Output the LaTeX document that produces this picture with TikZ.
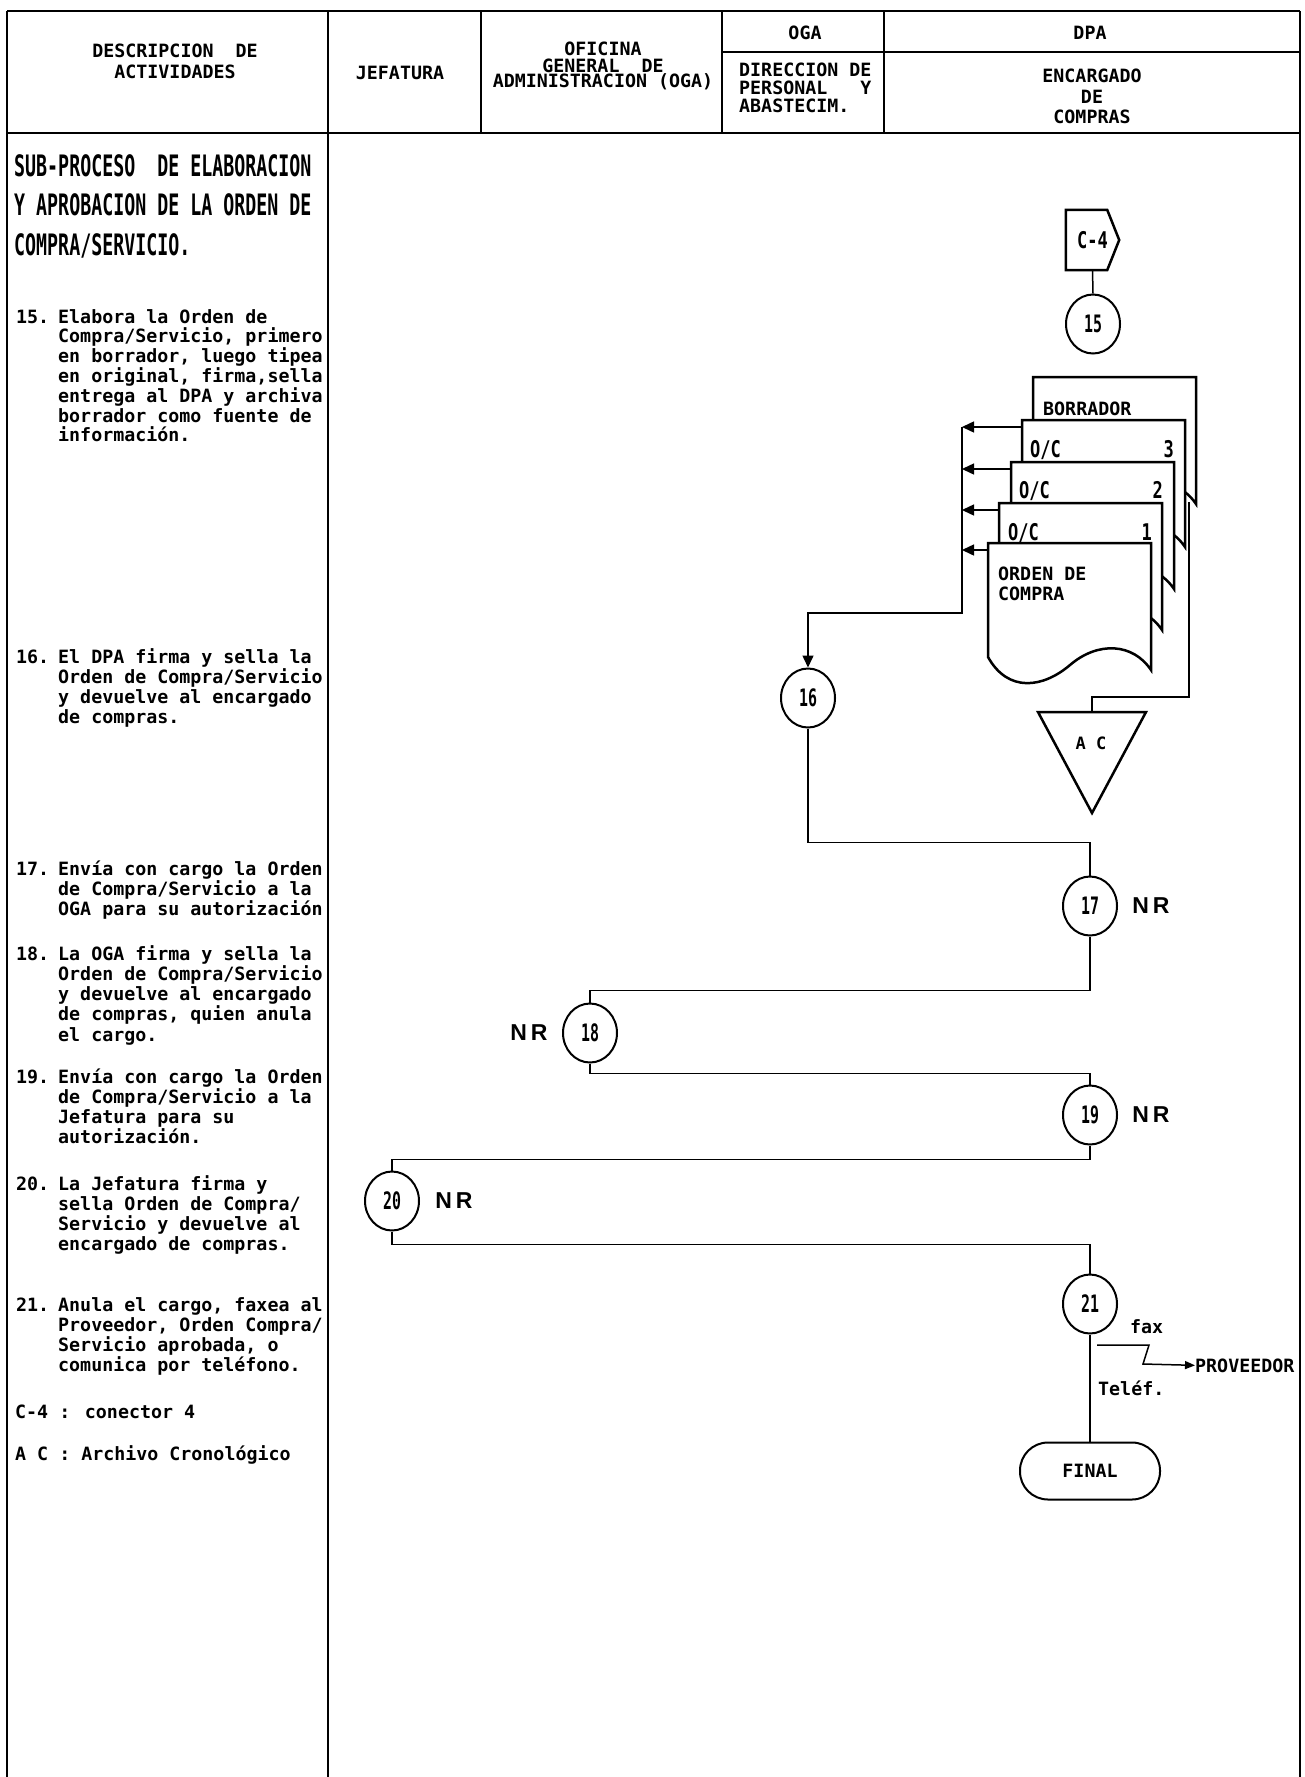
\documentclass[tikz,border=0pt]{standalone}
\usepackage{fontspec}
\usetikzlibrary{shapes.geometric,arrows.meta}
\newfontfamily\monof{DejaVu Sans Mono}
\newfontfamily\narrowf[FakeStretch=0.62]{DejaVu Sans Mono}
\newfontfamily\tallf[FakeStretch=0.74]{DejaVu Sans Mono}
\newfontfamily\nrf{Liberation Sans}
\newcommand\lin[1]{\hbox{#1}}
\newcommand\itemstack[2][20.3pt]{\vtop{\baselineskip=#1\lineskiplimit=-100pt\relax #2}}
\newcommand\docpath[2]{%
  \draw[shp] (#1,#2) -- ({#1+163},#2) -- ({#1+163},{#2+127})
    .. controls ({#1+145},{#2+100}) and ({#1+110},{#2+98}) .. ({#1+82},{#2+122})
    .. controls ({#1+55},{#2+145}) and ({#1+20},{#2+150}) .. (#1,{#2+114}) -- cycle;}
\tikzset{
  txt/.style={font=\monof\bfseries\fontsize{18.3}{20}\selectfont, inner sep=0pt, anchor=base west},
  ctxt/.style={txt, anchor=base},
  hsm/.style={ctxt, font=\monof\bfseries\fontsize{18.3}{18}\selectfont},
  ttl/.style={font=\narrowf\bfseries\fontsize{29.5}{37}\selectfont, inner sep=0pt, anchor=base west},
  talltxt/.style={font=\tallf\bfseries\fontsize{23}{23}\selectfont, inner sep=0pt, anchor=base west},
  circ/.style={ellipse, draw, line width=2pt, minimum width=54pt, minimum height=59pt, inner sep=0pt,
    font=\narrowf\bfseries\fontsize{24}{24}\selectfont},
  nr/.style={font=\nrf\bfseries\fontsize{23}{23}\selectfont, inner sep=0pt},
  conn/.style={line width=1.5pt},
  tip/.style={-{Triangle[length=12pt,width=11pt]}},
  shp/.style={line width=2.5pt, fill=white, line join=miter},
  frame/.style={line width=2.5pt},
  thinl/.style={line width=1.6pt},
}
\begin{document}
\begin{tikzpicture}[x=1pt,y=-1pt]
\useasboundingbox (0,0) rectangle (1305,1777);
% ---------- table frame ----------
\draw[frame] (7,11) -- (1300,11);
\draw[frame] (7,133) -- (1300,133);
\draw[thinl] (722,52) -- (1300,52);
\draw[line width=2pt] (7,11) -- (7,1777);
\draw[line width=2pt] (1300,11) -- (1300,1777);
\draw[line width=2pt] (328,11) -- (328,1777);
\draw[thinl] (481,11) -- (481,133);
\draw[thinl] (722,11) -- (722,133);
\draw[thinl] (884,11) -- (884,133);
% ---------- header texts ----------
\node[ctxt] (h1a) at (175,58) {DESCRIPCION\ \ DE};
\node[ctxt] (h1b) at (175,78) {ACTIVIDADES};
\node[ctxt] (h2) at (400,80) {JEFATURA};
\node[hsm] (h3a) at (603,56) {OFICINA};
\node[hsm] (h3b) at (603,72) {GENERAL\ \ DE};
\node[hsm] (h3c) at (603,88) {ADMINISTRACION (OGA)};
\node[ctxt] (h4) at (805,40) {OGA};
\node[ctxt] (h5) at (1090,40) {DPA};
\node[txt] (h6a) at (739,77) {DIRECCION DE};
\node[txt] (h6b) at (739,94.5) {PERSONAL\ \ \ Y};
\node[txt] (h6c) at (739,112) {ABASTECIM.};
\node[ctxt] (h7a) at (1092,82) {ENCARGADO};
\node[ctxt] (h7b) at (1092,103) {DE};
\node[ctxt] (h7c) at (1092,123) {COMPRAS};
% ---------- description column ----------
\node[ttl] (t1) at (14,176) {SUB-PROCESO\ \ DE ELABORACION};
\node[ttl] (t2) at (14,215.5) {Y APROBACION DE LA ORDEN DE};
\node[ttl] (t3) at (14,255) {COMPRA/SERVICIO.};
\node[txt] (k15) at (16,323) {15.};
\node[txt] (d15) at (58,323) {\itemstack[19.8pt]{\lin{Elabora la Orden de}\lin{Compra/Servicio, primero}\lin{en borrador, luego tipea}\lin{en original, firma,sella}\lin{entrega al DPA y archiva}\lin{borrador como fuente de}\lin{información.}}};
\node[txt] (k16) at (16,663) {16.};
\node[txt] (d16) at (58,663) {\itemstack{\lin{El DPA firma y sella la}\lin{Orden de Compra/Servicio}\lin{y devuelve al encargado}\lin{de compras.}}};
\node[txt] (k17) at (16,875) {17.};
\node[txt] (d17) at (58,875) {\itemstack{\lin{Envía con cargo la Orden}\lin{de Compra/Servicio a la}\lin{OGA para su autorización}}};
\node[txt] (k18) at (16,960) {18.};
\node[txt] (d18) at (58,960) {\itemstack{\lin{La OGA firma y sella la}\lin{Orden de Compra/Servicio}\lin{y devuelve al encargado}\lin{de compras, quien anula}\lin{el cargo.}}};
\node[txt] (k19) at (16,1083) {19.};
\node[txt] (d19) at (58,1083) {\itemstack{\lin{Envía con cargo la Orden}\lin{de Compra/Servicio a la}\lin{Jefatura para su}\lin{autorización.}}};
\node[txt] (k20) at (16,1190) {20.};
\node[txt] (d20) at (58,1190) {\itemstack{\lin{La Jefatura firma y}\lin{sella Orden de Compra/}\lin{Servicio y devuelve al}\lin{encargado de compras.}}};
\node[txt] (k21) at (16,1311) {21.};
\node[txt] (d21) at (58,1311) {\itemstack{\lin{Anula el cargo, faxea al}\lin{Proveedor, Orden Compra/}\lin{Servicio aprobada, o}\lin{comunica por teléfono.}}};
\node[txt] (lg1) at (15,1418) {C-4 : conector 4};
\node[txt] (lg2) at (15,1460) {A C : Archivo Cronológico};
% ---------- flowchart ----------
\node[minimum width=53pt, minimum height=60pt, inner sep=0pt,
      font=\tallf\bfseries\fontsize{23}{23}\selectfont] (c4) at (1092.5,240) {C-4};
\draw[line width=2.5pt, line join=miter] (c4.north west) -- ([xshift=-12pt]c4.north east) -- (c4.east)
   -- ([xshift=-12pt]c4.south east) -- (c4.south west) -- cycle;
\node[circ] (n15) at (1093,324) {15};
\draw[conn] (c4.south) -- (n15.north);
% document stack
\docpath{1033}{377}
\docpath{1022}{420}
\docpath{1011}{462}
\docpath{999}{503}
\docpath{988}{543}
\node[txt] (bor) at (1043,415) {BORRADOR};
\node[talltxt] (oc3) at (1030,457) {O/C};
\node[talltxt, anchor=base east] (oc3n) at (1174,457) {3};
\node[talltxt] (oc2) at (1019,498) {O/C};
\node[talltxt, anchor=base east] (oc2n) at (1163,498) {2};
\node[talltxt] (oc1) at (1008,540) {O/C};
\node[talltxt, anchor=base east] (oc1n) at (1152,540) {1};
\node[txt] (ord1) at (998,580) {ORDEN DE};
\node[txt] (ord2) at (998,600) {COMPRA};
\coordinate (oc3l) at (1022,427);
\coordinate (oc2l) at (1011,469);
\coordinate (oc1l) at (999,510);
\coordinate (ordl) at (988,550);
\coordinate (cTop) at (962,427);
\coordinate (cBot) at (962,613);
\draw[conn,tip] (oc3l) -- (cTop);
\draw[conn,tip] (oc2l) -- (oc2l -| cTop);
\draw[conn,tip] (oc1l) -- (oc1l -| cTop);
\draw[conn,tip] (ordl) -- (ordl -| cTop);
\node[circ] (n16) at (808,698) {16};
\draw[conn,tip] (cTop) -- (cBot) -| (n16.north);
% archivo cronologico
\draw[shp] (1038,712) -- (1146,712) -- (1092,813) -- cycle;
\coordinate (actop) at (1092,712);
\node[txt, anchor=base, font=\monof\bfseries\fontsize{17}{18}\selectfont] (ac) at (1091,749) {A C};
\coordinate (borout) at (1189,502);
\draw[conn] (borout) -- ++(0,195) -| (actop);
% numbered steps
\node[circ] (n17) at (1090,906) {17};
\node[circ] (n18) at (590,1033) {18};
\node[circ] (n19) at (1090,1115) {19};
\node[circ] (n20) at (392,1201) {20};
\node[circ] (n21) at (1090,1304) {21};
\draw[conn] (n16.south) -- ++(0,114) -| (n17.north);
\draw[conn] (n17.south) -- ++(0,54) -| (n18.north);
\draw[conn] (n18.south) -- ++(0,10) -| (n19.north);
\draw[conn] (n19.south) -- ++(0,14) -| (n20.north);
\draw[conn] (n20.south) -- ++(0,13) -| (n21.north);
\node[nr] (nr17) at (1151,906) {N\kern4pt R};
\node[nr] (nr18) at (529,1033) {N\kern4pt R};
\node[nr] (nr19) at (1151,1115) {N\kern4pt R};
\node[nr] (nr20) at (454,1201) {N\kern4pt R};
% final
\node[txt, anchor=center, draw, line width=2pt, rounded corners=28pt, minimum width=140pt, minimum height=57pt] (fin) at (1090,1471) {FINAL};
\draw[conn] (n21.south) -- (fin.north);
\node[txt] (fax) at (1130,1333) {fax};
\node[txt] (tel) at (1098,1395) {Teléf.};
\node[txt] (prov) at (1195,1372) {PROVEEDOR};
\coordinate (faxs) at (1097,1345);
\draw[conn,-{Triangle[length=10pt,width=8pt]}] (faxs) -- ++(52,0) -- ++(-6,19) -- (prov.west);
\end{tikzpicture}
\end{document}
